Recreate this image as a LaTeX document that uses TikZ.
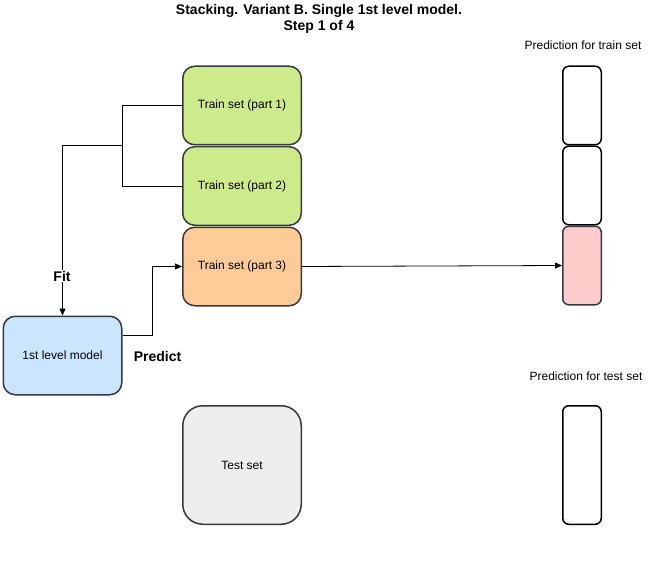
\documentclass[tikz,border=0pt]{standalone}
\usepackage{fontspec}
\setmainfont{Liberation Sans}
\usetikzlibrary{positioning,arrows.meta}
\definecolor{trainGreen}{HTML}{CDEB8B}
\definecolor{trainOrange}{HTML}{FFCC99}
\definecolor{modelBlue}{HTML}{CCE5FF}
\definecolor{testGray}{HTML}{EEEEEE}
\definecolor{predRed}{HTML}{FFCCCC}
\definecolor{edgeGray}{HTML}{36393D}

\tikzset{
  setbox/.style={draw=edgeGray, line width=1.5pt, rounded corners=12pt,
    minimum width=118.5pt, minimum height=78.5pt, inner sep=0pt,
    font=\fontsize{12}{14}\selectfont},
  cellbox/.style={draw=black, line width=1.5pt, rounded corners=6pt,
    minimum width=38.5pt, minimum height=78.5pt, inner sep=0pt},
  conn/.style={line width=0.8pt},
  connarrow/.style={conn, -{Triangle[length=7pt,width=6pt]}},
  caption/.style={font=\fontsize{12}{14}\selectfont, inner sep=1pt},
  stepname/.style={font=\fontsize{14}{16}\selectfont\bfseries, inner sep=1pt}
}

\begin{document}
\begin{tikzpicture}[x=1pt,y=-1pt]
\useasboundingbox (0,0) rectangle (659,575);
%\draw[help lines,step=20] (0,0) grid (659,575);

% title
\node[stepname, align=center] (title) at (319,19)
  {Stacking. Variant B. Single 1st level model.\\Step 1 of 4};

% train set parts
\node[setbox, fill=trainGreen] (part1) at (242,105.5) {Train set (part 1)};
\node[setbox, fill=trainGreen, below=0.5pt of part1] (part2) {Train set (part 2)};
\node[setbox, fill=trainOrange, below=0.5pt of part2] (part3) {Train set (part 3)};

% model and test set
\node[setbox, fill=modelBlue] (model) at (62.5,355.5) {1st level model};
\node[setbox, fill=testGray, rounded corners=20pt, minimum height=118.5pt] (test) at (242,465) {Test set};

% prediction cells for train set
\foreach \i/\col in {1/white,2/white,3/predRed}{
  \pgfmathsetmacro{\cy}{105.5 + (\i-1)*80}
  \ifnum\i=3
    \node[cellbox, fill=\col, draw=edgeGray] (pred\i) at (582,\cy) {};
  \else
    \node[cellbox, fill=\col] (pred\i) at (582,\cy) {};
  \fi
}
\node[cellbox, minimum height=118.5pt] (predtest) at (582,465) {};

\node[caption] (trainlabel) at (583,45) {Prediction for train set};
\node[caption] (testlabel) at (586,376) {Prediction for test set};

% fit
\draw[conn] (part1.west) -- ++(-60,0) |- (part2.west);
\coordinate (fitjoin) at (122,145);
\draw[connarrow] (fitjoin) -| (model.north);
\node[stepname, fill=white] (fitlabel) at (62,276) {Fit};

% predict
\draw[connarrow] (model.east |- 0,335) -- ++(30,0) |- (part3.west);
\node[stepname] (predictlabel) at (157.5,356) {Predict};
\draw[connarrow] (part3.east) -- (pred3.west);
\end{tikzpicture}
\end{document}
